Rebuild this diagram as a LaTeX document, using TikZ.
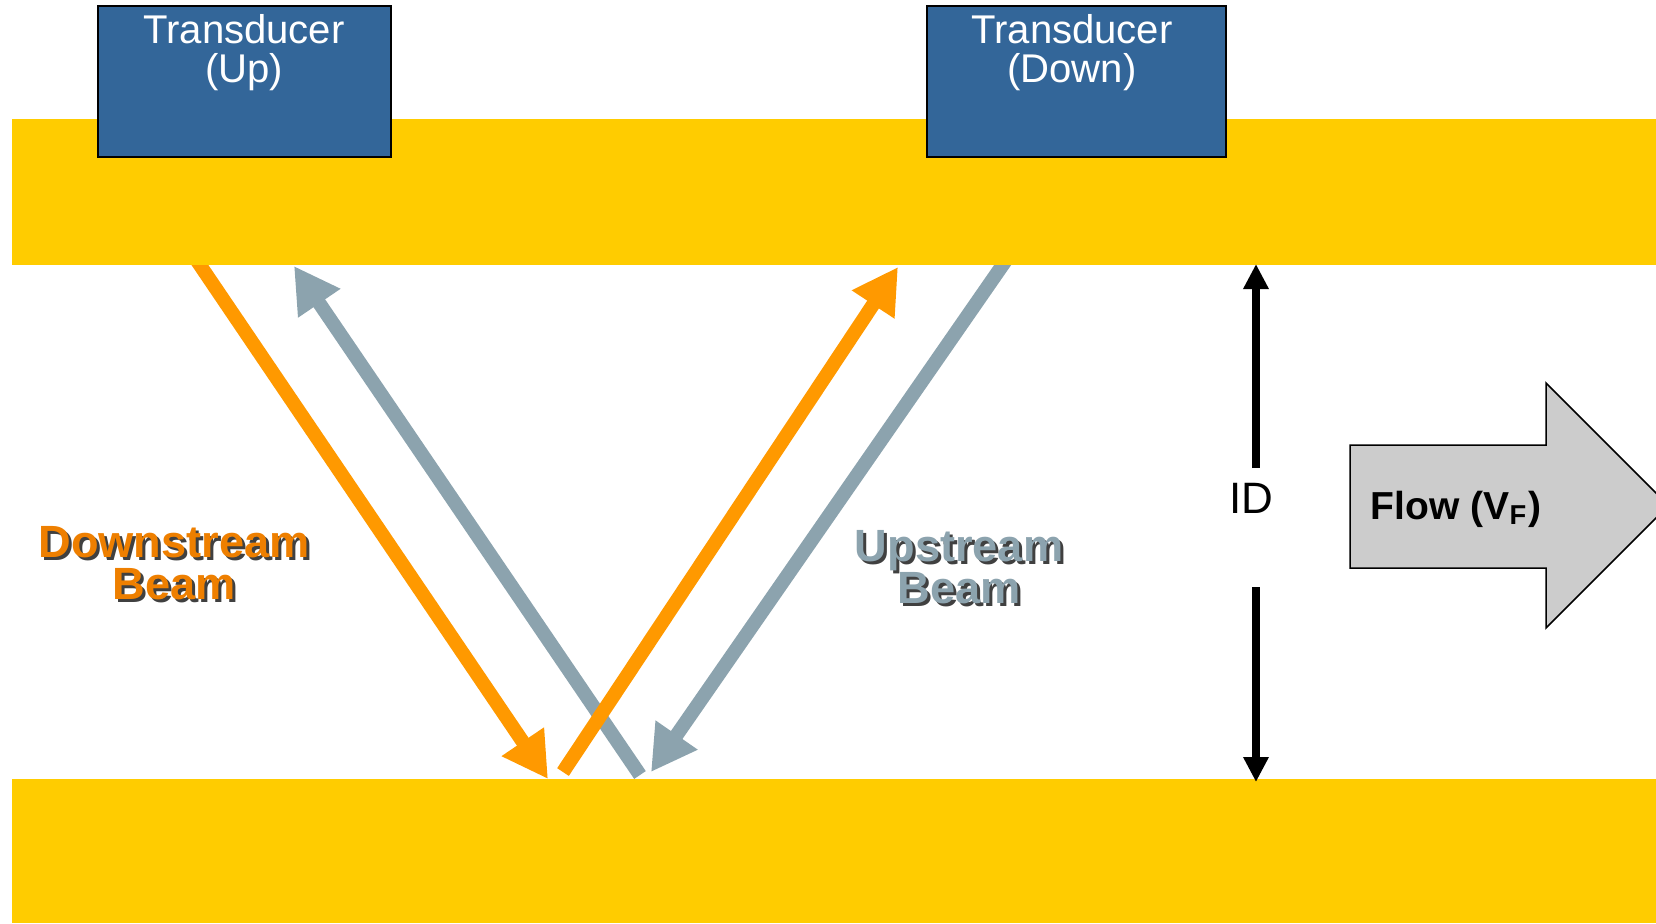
\documentclass[tikz,border=0pt]{standalone}
\usepackage{fontspec}
\setmainfont{Liberation Sans}
\usetikzlibrary{arrows.meta, positioning}
\definecolor{pipeyellow}{HTML}{FFCC00}
\definecolor{tdblue}{HTML}{336699}
\definecolor{dsorange}{HTML}{FF9900}
\definecolor{dstext}{HTML}{EE7F00}
\definecolor{usgray}{HTML}{8CA3AE}
\definecolor{flowgray}{HTML}{CCCCCC}

\tikzset{
  band/.style={fill=pipeyellow, draw=none},
  tbox/.style={draw=black, line width=0.015cm, fill=tdblue, minimum height=1.51cm, inner sep=0pt},
  ttext/.style={anchor=north, inner sep=0pt, text=white, align=center, font=\fontsize{11.4pt}{11.1pt}\selectfont},
  beam/.style={line width=0.14cm, -{Triangle[length=0.45cm, width=0.48cm]}},
  beamlbl/.style={align=center, inner sep=0pt, font=\fontsize{12.85pt}{12pt}\selectfont\bfseries},
  idarrow/.style={line width=0.08cm, -{Triangle[length=0.25cm, width=0.24cm]}}
}

\begin{document}
\begin{tikzpicture}[x=0.01cm, y=-0.01cm]
  \useasboundingbox (0,0) rectangle (1656,923);
  \begin{scope}
    \clip (0,0) rectangle (1656,923);

    % beams (drawn under the pipe walls)
    \coordinate (dsA) at (183,240);
    \coordinate (dsB) at (548,779);
    \coordinate (rfA) at (563,772);
    \coordinate (rfB) at (898,267);
    \coordinate (usA) at (1020,240);
    \coordinate (usB) at (651,772);
    \coordinate (rgA) at (640,775);
    \coordinate (rgB) at (294,266);
    \draw[beam, dsorange] (dsA) -- (dsB);
    \draw[beam, usgray] (rgA) -- (rgB);
    \draw[beam, dsorange] (rfA) -- (rfB);
    \draw[beam, usgray] (usA) -- (usB);

    % pipe walls
    \fill[band] (11.6,119) rectangle (1656,265);
    \fill[band] (11.6,779) rectangle (1656,923);

    % transducers
    \node[tbox, minimum width=2.93cm] (up) at (244.5,81.5) {};
    \node[tbox, minimum width=2.99cm] (down) at (1076.5,81.5) {};
    \node[ttext] (upLbl) at (244,14) {Transducer\\(Up)};
    \node[ttext] (downLbl) at (1072,14) {Transducer\\(Down)};

    % beam labels
    \node[beamlbl, text=black!75] (dsShadow) at (177,566) {Downstream\\Beam};
    \node[beamlbl, text=dstext] (ds) at (174,563) {Downstream\\Beam};
    \node[beamlbl, text=black!75] (usShadow) at (962,570) {Upstream\\Beam};
    \node[beamlbl, text=usgray] (us) at (959,567) {Upstream\\Beam};

    % inner diameter
    \node[font=\fontsize{12.5pt}{15pt}\selectfont] (id) at (1251,498) {ID};
    \coordinate (idUp) at (1256,468);
    \coordinate (idTop) at (1256,264);
    \coordinate (idLo) at (1256,587);
    \coordinate (idBot) at (1256,782);
    \draw[idarrow] (idUp) -- (idTop);
    \draw[idarrow] (idLo) -- (idBot);

    % flow arrow
    \draw[fill=flowgray, line width=0.015cm]
      (1350,445) -- (1546,445) -- (1546,383) -- (1668.5,505.5)
      -- (1546,628) -- (1546,568) -- (1350,568) -- cycle;
    \node[font=\fontsize{11.1pt}{13pt}\selectfont\bfseries] (flow) at (1456,509) {Flow (V\textsubscript{F})};
  \end{scope}
\end{tikzpicture}
\end{document}
